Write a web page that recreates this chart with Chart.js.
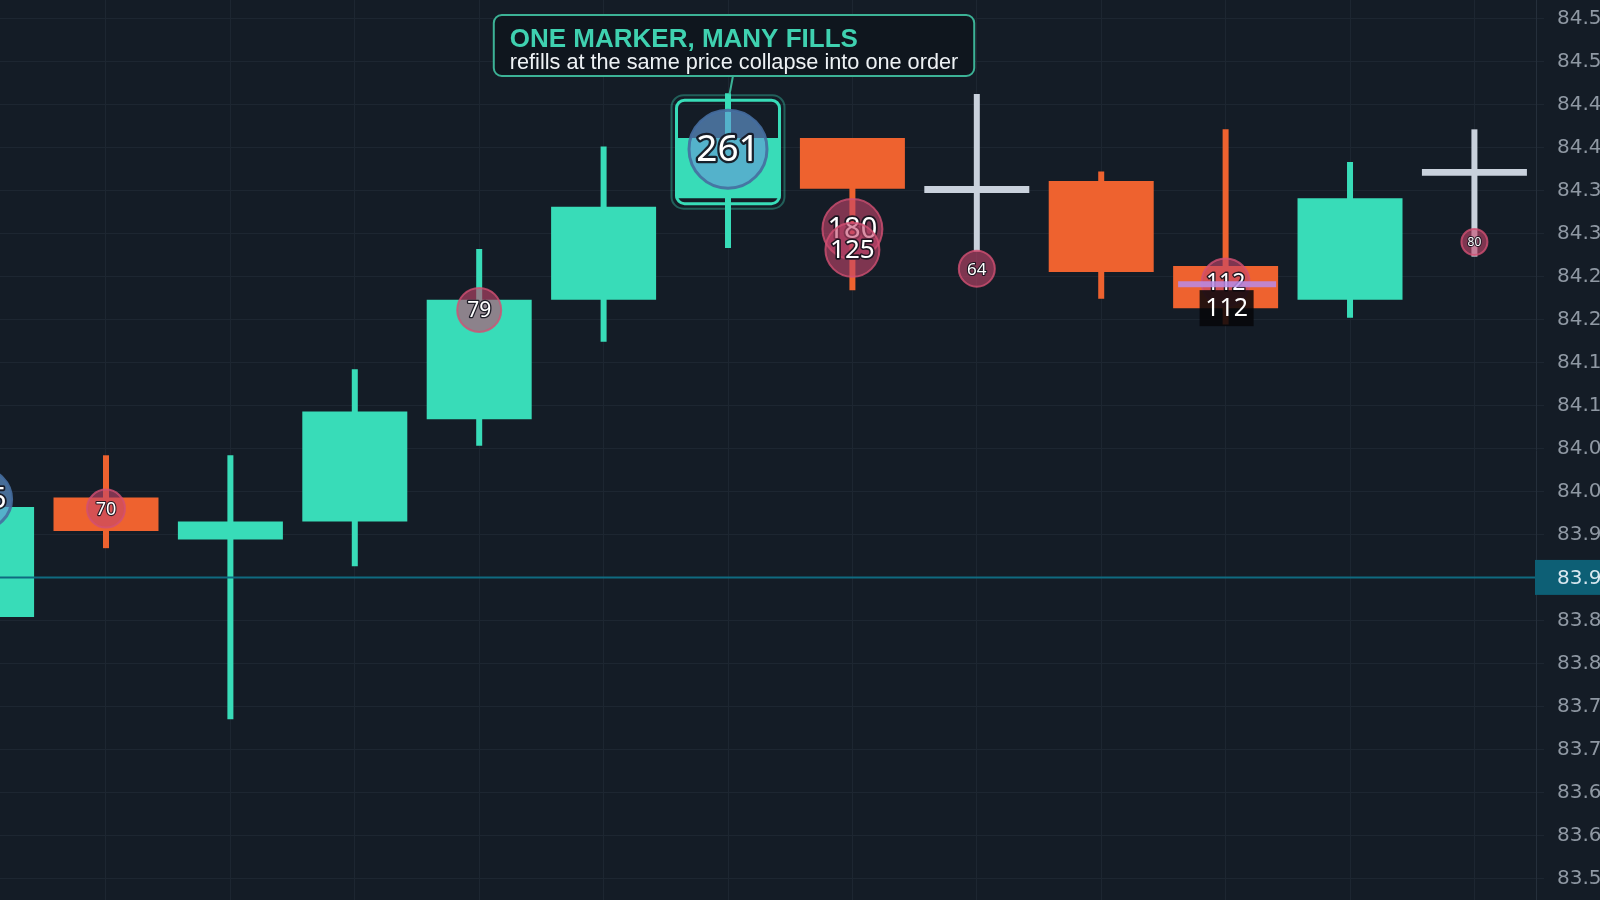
<!DOCTYPE html>
<html>
<head>
<meta charset="utf-8">
<script src="https://cdn.jsdelivr.net/npm/chart.js@4.4.1/dist/chart.umd.min.js"></script>
<style>
  html, body { margin: 0; padding: 0; background: #141c26; overflow: hidden; }
  #wrap { width: 1600px; height: 900px; position: relative; }
</style>
</head>
<body>
<div id="wrap"><canvas id="chart"></canvas></div>
<script>
// ── Candles ────────────────────────────────────────────
const candles = [0, 1, 2, 3, 4, 5, 6, 7, 8, 9, 10, 11, 12];
const opens  = [83.854, 83.993, 83.944, 83.965, 84.084, 84.223, 84.341, 84.411, 84.355, 84.361, 84.262, 84.223, 84.375];
const closes = [83.982, 83.954, 83.965, 84.093, 84.223, 84.331, 84.411, 84.352, 84.347, 84.255, 84.213, 84.341, 84.367];
const highs  = [84.000, 84.042, 84.042, 84.142, 84.282, 84.401, 84.463, 84.411, 84.462, 84.372, 84.421, 84.383, 84.421];
const lows   = [83.830, 83.934, 83.735, 83.913, 84.053, 84.174, 84.283, 84.234, 84.279, 84.224, 84.194, 84.202, 84.273];

// ── Fill markers ───────────────────────────────────────
const fillCandle = [0, 1, 4, 6, 7, 7, 8, 10, 12];
const fillPrice  = [83.991, 83.980, 84.211, 84.398, 84.305, 84.281, 84.259, 84.243, 84.290];
const fillQty    = [155, 70, 79, 261, 180, 125, 64, 112, 80];
const fillSide   = ['buy', 'sell', 'sell', 'buy', 'sell', 'sell', 'sell', 'sell', 'sell'];

// ── Working order / last price / note ──────────────────
const orderCandle = [10];
const orderPrice  = [84.241];
const orderQty    = [112];
const lastPrice   = 83.90;
const focusCandle = 6;
const noteTitle = 'ONE MARKER, MANY FILLS';
const noteText  = 'refills at the same price collapse into one order';

// ── Styles ─────────────────────────────────────────────
const UP = '#38dcb8', DOWN = '#ee622f', FLAT = '#c9d1dc';
const GRID = '#1d2631';
const markerRadius = [30, 19, 22, 39, 30, 27, 18, 24, 13];

const colorOf = i => Math.abs(closes[i] - opens[i]) < 0.01 ? FLAT : (closes[i] > opens[i] ? UP : DOWN);

const overlay = {
  id: 'overlay',
  afterDatasetsDraw(chart) {
    const { ctx, chartArea: a, scales: { x, y } } = chart;
    const bodyW = chart.getDatasetMeta(1).data[1].width;

    ctx.save();
    ctx.beginPath();
    ctx.rect(a.left, a.top, a.right - a.left, a.bottom - a.top);
    ctx.clip();

    // last price line
    const ly = y.getPixelForValue(lastPrice);
    ctx.strokeStyle = '#0f6a80';
    ctx.lineWidth = 2;
    ctx.beginPath(); ctx.moveTo(a.left, ly); ctx.lineTo(a.right, ly); ctx.stroke();

    // fill markers
    fillCandle.forEach((c, k) => {
      const px = x.getPixelForValue(c), py = y.getPixelForValue(fillPrice[k]);
      const r = markerRadius[k];
      const buy = fillSide[k] === 'buy';
      ctx.beginPath();
      ctx.arc(px, py, r, 0, Math.PI * 2);
      ctx.fillStyle = buy ? 'rgba(100,155,215,0.64)' : 'rgba(197,70,108,0.6)';
      ctx.fill();
      ctx.lineWidth = buy ? 3 : 2;
      ctx.strokeStyle = buy ? 'rgba(70,110,160,0.9)' : 'rgba(210,80,115,0.8)';
      ctx.stroke();

      const fs = Math.round(r * 0.95);
      ctx.font = `${fs}px "Noto Sans"`;
      ctx.textAlign = 'center';
      ctx.textBaseline = 'middle';
      ctx.lineJoin = 'round';
      ctx.lineWidth = Math.max(2, fs / 8);
      ctx.strokeStyle = 'rgba(18,18,28,0.9)';
      ctx.strokeText(String(fillQty[k]), px, py + 1);
      ctx.fillStyle = '#ffffff';
      ctx.fillText(String(fillQty[k]), px, py + 1);
    });

    // working order line + qty label
    orderCandle.forEach((c, k) => {
      const px = x.getPixelForValue(c), py = y.getPixelForValue(orderPrice[k]);
      ctx.strokeStyle = 'rgba(185,140,230,0.85)';
      ctx.lineWidth = 6;
      ctx.beginPath();
      ctx.moveTo(px - bodyW / 2 + 5, py); ctx.lineTo(px + bodyW / 2 - 2, py);
      ctx.stroke();
      ctx.fillStyle = 'rgba(6,6,9,0.85)';
      ctx.fillRect(px - 26, py + 6, 54, 36);
      ctx.font = '25px "Noto Sans"';
      ctx.textAlign = 'center';
      ctx.textBaseline = 'middle';
      ctx.fillStyle = '#ffffff';
      ctx.fillText(String(orderQty[k]), px + 1, py + 25);
    });

    // focus box round the collapsed fill
    const fx = x.getPixelForValue(focusCandle);
    const top = y.getPixelForValue(highs[focusCandle]) + 7;
    const bot = y.getPixelForValue(opens[focusCandle]) + 5.5;
    ctx.strokeStyle = 'rgba(61,220,185,0.35)';
    ctx.lineWidth = 2;
    ctx.beginPath();
    ctx.roundRect(fx - bodyW / 2 - 4, top - 5, bodyW + 8, bot - top + 10, 12);
    ctx.stroke();
    ctx.strokeStyle = UP;
    ctx.lineWidth = 3;
    ctx.beginPath();
    ctx.roundRect(fx - bodyW / 2 + 1, top, bodyW - 2, bot - top, 8);
    ctx.stroke();
    ctx.restore();

    // note box
    ctx.save();
    const titleFont = 'bold 26px "Liberation Sans"';
    const textFont = '21.7px "Liberation Sans"';
    ctx.font = titleFont;
    const w1 = ctx.measureText(noteTitle).width;
    ctx.font = textFont;
    const w2 = ctx.measureText(noteText).width;
    const bw = Math.max(w1, w2) + 32, bh = 61;
    const bx = fx + 6 - bw / 2, by = 15;
    ctx.strokeStyle = '#3cb296';
    ctx.lineWidth = 2;
    ctx.beginPath();
    ctx.moveTo(fx + 5, by + bh); ctx.lineTo(fx + 1.5, top - 6);
    ctx.stroke();
    ctx.fillStyle = '#0f161e';
    ctx.beginPath();
    ctx.roundRect(bx, by, bw, bh, 8);
    ctx.fill();
    ctx.stroke();
    ctx.textAlign = 'left';
    ctx.textBaseline = 'alphabetic';
    ctx.fillStyle = '#3fd1b0';
    ctx.font = titleFont;
    ctx.fillText(noteTitle, bx + 16, by + 32);
    ctx.fillStyle = '#eef2f5';
    ctx.font = textFont;
    ctx.fillText(noteText, bx + 16, by + 54);

    // last price tag on the axis
    ctx.fillStyle = '#0d5f75';
    ctx.fillRect(a.right - 1, ly - 17.5, chart.width - a.right + 1, 35);
    ctx.fillStyle = '#d9e8f0';
    ctx.font = '20px "DejaVu Sans"';
    ctx.textBaseline = 'middle';
    ctx.fillText(lastPrice.toFixed(2), a.right + 21, ly + 1);
    ctx.restore();
  }
};

new Chart(document.getElementById('chart'), {
  type: 'bar',
  data: {
    datasets: [
      {
        label: 'wick',
        data: candles.map(i => ({ x: i, y: [lows[i], highs[i]] })),
        backgroundColor: candles.map(colorOf),
        grouped: false,
        maxBarThickness: 6,
        order: 2
      },
      {
        label: 'body',
        data: candles.map(i => ({ x: i, y: [opens[i], closes[i]] })),
        backgroundColor: candles.map(colorOf),
        grouped: false,
        categoryPercentage: 1,
        barPercentage: 0.844,
        borderSkipped: false,
        order: 1
      }
    ]
  },
  options: {
    responsive: true,
    maintainAspectRatio: false,
    animation: false,
    layout: { padding: 0 },
    plugins: { legend: { display: false }, tooltip: { enabled: false } },
    scales: {
      x: {
        type: 'linear',
        min: 0.148,
        max: 12.495,
        offset: false,
        ticks: { display: false, stepSize: 1, includeBounds: false, maxTicksLimit: 40 },
        grid: { color: GRID, offset: false, drawTicks: false },
        border: { display: false },
        afterFit: s => { s.height = 0; s.paddingLeft = 0; s.paddingRight = 0; }
      },
      y: {
        type: 'linear',
        position: 'right',
        min: 83.5249,
        max: 84.5714,
        beginAtZero: false,
        ticks: {
          stepSize: 0.05,
          includeBounds: false,
          maxTicksLimit: 40,
          color: '#8f98a3',
          padding: 13,
          font: { family: 'DejaVu Sans', size: 20 },
          callback: v => v.toFixed(2)
        },
        grid: { color: GRID, tickLength: 8 },
        border: { color: '#252f3b' },
        afterFit: s => { s.width = 64; s.paddingTop = 0; s.paddingBottom = 0; }
      }
    }
  },
  plugins: [overlay]
});
</script>
</body>
</html>
